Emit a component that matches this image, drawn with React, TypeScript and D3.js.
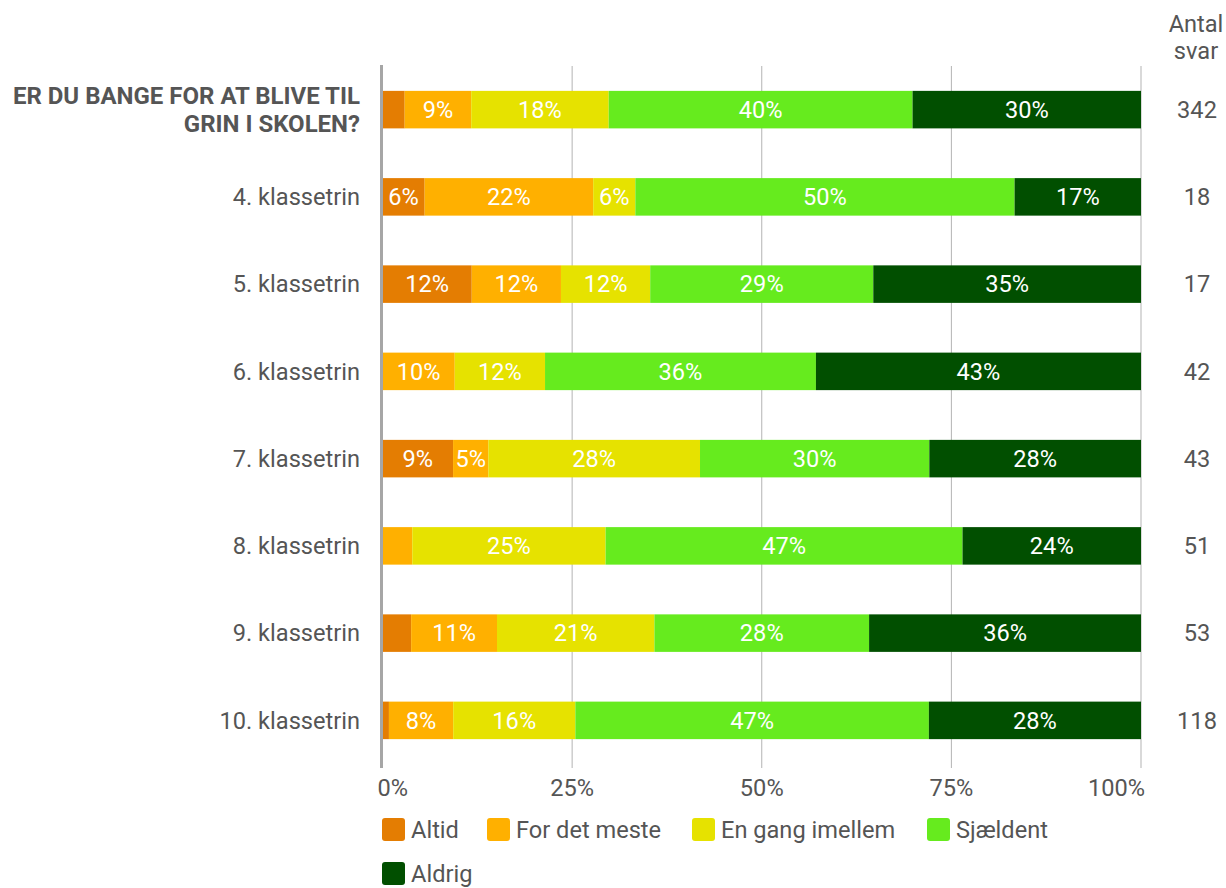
import React from "react";
import * as d3 from "d3";

const rowLabels = [
  "ER DU BANGE FOR AT BLIVE TIL|GRIN I SKOLEN?",
  "4. klassetrin",
  "5. klassetrin",
  "6. klassetrin",
  "7. klassetrin",
  "8. klassetrin",
  "9. klassetrin",
  "10. klassetrin",
];
const totals = [342, 18, 17, 42, 43, 51, 53, 118];
const seriesNames = ["Altid", "For det meste", "En gang imellem", "Sjældent", "Aldrig"];
const seriesColors = ["#e47d02", "#ffb000", "#e6e200", "#66eb1e", "#014f00"];
const altid = [10, 1, 2, 0, 4, 0, 2, 1];
const forDetMeste = [30, 4, 2, 4, 2, 2, 6, 10];
const enGang = [62, 1, 2, 5, 12, 13, 11, 19];
const sjaeldent = [137, 9, 5, 15, 13, 24, 15, 55];
const aldrig = [103, 3, 6, 18, 12, 12, 19, 33];
const tickValues = [0, 25, 50, 75, 100];

const W = 1226;
const H = 888;
const FONT = "Roboto, sans-serif";
const TEXT = "#555555";
const FS = 23.6;

export default function App() {
  const x = d3.scaleLinear().domain([0, 100]).range([382.5, 1141]);
  const y = d3
    .scaleBand<number>()
    .domain(d3.range(rowLabels.length))
    .range([66, 764])
    .paddingInner(0.57)
    .paddingOuter(0.285);

  const series = [altid, forDetMeste, enGang, sjaeldent, aldrig];
  const rows = rowLabels.map((_, i) => {
    const obj: any = {};
    seriesNames.forEach((n, s) => (obj[n] = (series[s][i] / totals[i]) * 100));
    return obj;
  });
  const stacked = d3.stack<any>().keys(seriesNames)(rows);

  const legendX = [382, 487, 692, 927, 382];
  const legendY = [818, 818, 818, 818, 862];

  return (
    <div style={{ position: "absolute", left: 0, top: 0 }}>
      <svg width={W} height={H} style={{ display: "block", fontFamily: FONT }}>
        <rect width={W} height={H} fill="#fff" />
        {/* gridlines */}
        {tickValues.slice(1).map((t) => (
          <line key={t} x1={x(t)} x2={x(t)} y1={66} y2={768} stroke="#b3b3b3" strokeWidth={1} />
        ))}
        {/* bars */}
        {stacked.map((layer, s) =>
          layer.map((d, i) => {
            const w = x(d[1]) - x(d[0]);
            if (w <= 0) return null;
            const pct = d[1] - d[0];
            return (
              <g key={`${s}-${i}`}>
                <rect
                  x={x(d[0])}
                  y={y(i)!}
                  width={w}
                  height={y.bandwidth()}
                  fill={seriesColors[s]}
                />
                {pct >= 4.5 && (
                  <text
                    x={(x(d[0]) + x(d[1])) / 2}
                    y={y(i)! + y.bandwidth() / 2}
                    dy="0.35em"
                    textAnchor="middle"
                    fill="#fff"
                    fontSize={FS}
                  >
                    {Math.round(pct)}%
                  </text>
                )}
              </g>
            );
          })
        )}
        {/* zero axis */}
        <line x1={x(0) - 1} x2={x(0) - 1} y1={65} y2={768} stroke="#a6a6a6" strokeWidth={3} />
        {/* tick labels */}
        {tickValues.map((t, k) => (
          <text
            key={t}
            x={k === 0 ? x(t) - 5 : k === tickValues.length - 1 ? x(t) + 4 : x(t)}
            y={796}
            textAnchor={k === 0 ? "start" : k === tickValues.length - 1 ? "end" : "middle"}
            fill={TEXT}
            fontSize={FS}
          >
            {t}%
          </text>
        ))}
        {/* row labels */}
        {rowLabels.map((lab, i) => {
          const cy = y(i)! + y.bandwidth() / 2;
          if (lab.includes("|")) {
            const parts = lab.split("|");
            return (
              <text key={i} textAnchor="end" fill={TEXT} fontSize={24} fontWeight="bold">
                <tspan x={360} y={cy - 14} dy="0.35em">
                  {parts[0]}
                </tspan>
                <tspan x={360} y={cy + 14} dy="0.35em">
                  {parts[1]}
                </tspan>
              </text>
            );
          }
          return (
            <text key={i} x={360} y={cy} dy="0.35em" textAnchor="end" fill={TEXT} fontSize={FS}>
              {lab}
            </text>
          );
        })}
        {/* counts */}
        <text textAnchor="middle" fill={TEXT} fontSize={FS}>
          <tspan x={1196} y={32}>Antal</tspan>
          <tspan x={1196} y={59}>svar</tspan>
        </text>
        {totals.map((n, i) => (
          <text
            key={i}
            x={1197}
            y={y(i)! + y.bandwidth() / 2}
            dy="0.35em"
            textAnchor="middle"
            fill={TEXT}
            fontSize={FS}
          >
            {n}
          </text>
        ))}
        {/* legend */}
        {seriesNames.map((n, s) => (
          <g key={n} transform={`translate(${legendX[s]},${legendY[s]})`}>
            <rect width={23} height={23} rx={3} fill={seriesColors[s]} />
            <text x={29} y={11.5} dy="0.35em" fill={TEXT} fontSize={FS}>
              {n}
            </text>
          </g>
        ))}
      </svg>
    </div>
  );
}
